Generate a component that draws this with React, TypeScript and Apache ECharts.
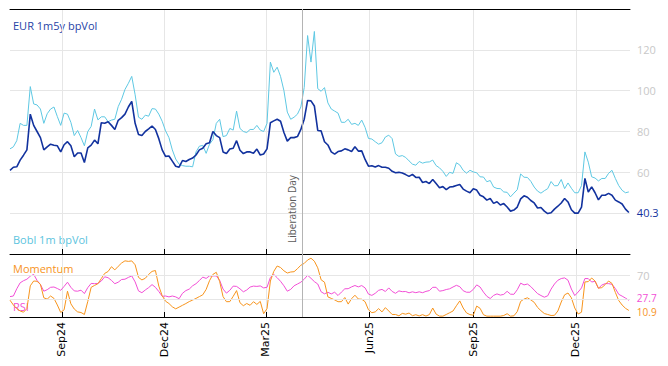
import React, { useEffect, useRef } from "react";
import * as echarts from "echarts";

// Series sampled every 3 calendar days starting 17 Jul 2024
const startDay = [2024, 6, 17];
const stepDays = 3;
const axisStart = [2024, 6, 17];
const axisEnd = [2026, 0, 18];
const liberationDay = [2025, 3, 2];

const eurVol = [
  61, 62.5, 62.7, 66, 68.4, 71, 88.5, 83, 80, 77,
  71, 72.5, 73.8, 73.3, 73, 70, 73.5, 75, 73, 67.6,
  69.5, 69.5, 64.8, 72, 73.3, 75.8, 74, 84.3, 84, 84.8,
  83, 81, 85.5, 86.8, 88.5, 92, 94.8, 84, 78.5, 78,
  80, 81.3, 82.7, 81, 76.5, 71, 67.8, 68, 65.5, 63,
  62.5, 65.8, 65.3, 66.3, 67, 68.5, 71, 71.8, 74, 74.5,
  80, 78, 77, 70, 69.2, 71.4, 71.8, 75.5, 70.8, 69.2,
  70, 70, 69.4, 71.4, 68.5, 69, 71.5, 84.3, 85.2, 86,
  85, 79.5, 75.3, 77, 77, 77.5, 81, 86, 95.2, 95,
  92.5, 80.5, 80.3, 75, 73.4, 70, 68.9, 70.2, 70.5, 71.5,
  71, 70.2, 72.5, 70.4, 70.5, 66.3, 63, 63.2, 62.6, 63.3,
  62.5, 62.5, 62, 60.5, 59.8, 60, 59.7, 58.9, 58, 59,
  57.5, 57.6, 55, 55.5, 54.5, 56.5, 54.5, 52.5, 53, 51.5,
  52.8, 53, 53.5, 54, 51.8, 50.8, 50, 52, 51.3, 48.8,
  48, 46.4, 47.2, 44.8, 45.6, 44, 44.7, 43, 41, 41.5,
  43, 47, 48.5, 47.8, 46.2, 45, 42.5, 42.8, 41, 39.8,
  40.2, 42, 43.4, 45, 47.2, 45.5, 41.7, 40, 40, 43,
  57, 50.4, 52.9, 50, 46.5, 48.8, 48.8, 49.7, 48.8, 46.4,
  45.5, 44.5, 42, 40.3,
];

const boblVol = [
  71.5, 72.5, 75.5, 84, 83, 83, 102, 93.5, 93, 91,
  84, 88.7, 91, 92, 87.3, 83, 89, 88.5, 84.5, 78,
  80.5, 77, 73, 80, 82.5, 91, 85.7, 87.2, 87.2, 84.8,
  85.6, 86, 92.2, 95.8, 100.6, 103.6, 107, 98, 87, 86,
  88, 87.5, 91.2, 91, 88.5, 85, 80.3, 77, 71, 66.5,
  64, 63.3, 63, 63, 62.7, 70, 72.8, 73.2, 69.3, 73.8,
  76, 84, 86, 77.5, 78, 81.5, 80.7, 90, 81.5, 80,
  79.5, 81, 81, 83, 80.7, 80, 84, 114, 109, 111.5,
  107, 100, 89.5, 86, 87, 88.5, 92, 101.5, 127, 114,
  129, 101, 99.7, 101.5, 94, 91, 90, 89, 84.5, 84.5,
  86, 83.5, 84, 83, 85.6, 82, 76.6, 76.3, 75, 73.8,
  74.5, 77.3, 78.2, 76.5, 69, 67.8, 68.2, 67.3, 65.6, 64,
  63.5, 65.3, 64.5, 65, 65.1, 66, 63.3, 62.2, 60.5, 58,
  60, 59.5, 64.7, 63.6, 61, 59.6, 61, 60.2, 59.8, 57.8,
  57.7, 55.4, 56, 52.8, 52.1, 52, 50.4, 50.2, 48, 49.8,
  51.5, 59.2, 57.6, 57.5, 55.6, 52.8, 50.8, 49.8, 51, 52,
  55.5, 53.4, 53.5, 56.5, 52, 54.8, 52.2, 50, 50, 53.5,
  70, 65, 57.8, 57.2, 55.8, 57, 57, 59.5, 61, 57,
  53.5, 51.2, 50, 50.4,
];

const momentum = [
  28, 20, 14, 10, 8, 14, 52, 60, 59.5, 54.5,
  32, 29.8, 35, 31, 20, 7.5, 12, 43, 22, 13.3,
  8.5, 7.5, 4.2, 26, 49.5, 52.6, 55.5, 64, 72.7, 75.8,
  83.8, 78.5, 84.5, 90, 93.6, 92.7, 93.5, 87, 66, 61.8,
  64.5, 71, 76, 77.5, 51.5, 35.5, 26.3, 22.5, 17, 13.6,
  16.5, 19.5, 22.4, 25.7, 28.2, 31, 34, 37, 46, 60.5,
  71, 74.5, 59, 34, 25.5, 25.6, 34.5, 44, 23.8, 18.8,
  22.5, 19.5, 25.5, 21, 26, 5.5, 14, 60, 76, 85,
  82.5, 77, 73.3, 75, 75.5, 80.5, 86.3, 89.3, 95, 98,
  93, 82, 62, 58, 33.5, 31, 28.5, 25.5, 25.5, 32.5,
  21.5, 30.5, 36.3, 30, 29.6, 25.5, 12, 7.1, 8.5, 14,
  8.5, 15.6, 10, 4.2, 4.2, 2, 6, 4.7, 6.6, 2.2,
  3.8, 1.8, 3.9, 1.6, 4, 15, 4.8, 1.5, 1.4, 4.2,
  7.1, 10, 18.7, 26.8, 15, 6.8, 4, 3, 18.2, 14.5,
  3.8, 1.4, 1.4, 1.4, 1.4, 1.4, 2.5, 5.5, 1.4, 2,
  9, 26, 29.9, 32, 28.5, 24.5, 16, 10.5, 5.8, 4.2,
  2.5, 2.8, 10, 25, 37, 40, 32, 15, 5, 8,
  58.4, 59, 65, 60, 48, 49, 54, 60, 56, 41,
  27.5, 20, 14.5, 10.9,
];

const rsi = [
  34, 35, 47, 57, 60.5, 63, 68, 71, 61, 54,
  43, 45.5, 49.5, 50, 47.5, 44.5, 51, 58, 49.5, 43.5,
  43, 44.7, 39, 49, 56, 55.5, 56, 60, 67, 65.5,
  61, 55.5, 58, 62.5, 63, 66, 68.5, 58.5, 43.5, 40.5,
  45, 49, 54, 49.5, 42.5, 34.5, 35, 33.5, 35, 33.5,
  30.5, 39.5, 44, 46.5, 52, 55.5, 60.8, 66.5, 64.3, 68.5,
  68.5, 68.5, 61, 46.5, 39.8, 44.5, 51.5, 51, 47, 42,
  45, 49.9, 51.5, 51, 51.8, 48.5, 49.5, 66, 71, 65.5,
  59.5, 52, 43, 46, 52, 55, 58, 63, 69.5, 64.5,
  59, 55, 42, 38.6, 41.2, 38.5, 41.3, 35.8, 41.5, 47,
  47.2, 50.2, 52.5, 50.2, 52.4, 48.5, 38.2, 36, 39.5, 44.5,
  46, 42.5, 48.5, 42.6, 39.5, 43.5, 42.2, 42.5, 40.3, 42,
  40.5, 42, 40.5, 42.7, 44, 49.5, 49.5, 43, 44, 45.8,
  47, 50, 52.8, 50.5, 43.8, 41.3, 41.3, 46, 53.5, 50,
  41.5, 34.5, 30.8, 36, 38.5, 36.5, 37.7, 42.8, 38, 37.8,
  45.5, 56.4, 53.5, 55, 50.7, 44.8, 39, 35.8, 33, 35.3,
  46.5, 55, 61.2, 64.1, 65.2, 61.3, 46.6, 35.7, 41.6, 48.5,
  64.1, 64, 58.3, 59.5, 47.8, 53.2, 55.6, 55.6, 54.5, 47.5,
  37.8, 34.8, 31.5, 27.7,
];

const tickMonths = [
  [2024, 8, 1],
  [2024, 11, 1],
  [2025, 2, 1],
  [2025, 5, 1],
  [2025, 8, 1],
  [2025, 11, 1],
];
const monthNames = ["Jan", "Feb", "Mar", "Apr", "May", "Jun", "Jul", "Aug", "Sep", "Oct", "Nov", "Dec"];
const volTicks = [60, 80, 100, 120];
const oscTicks = [70];
const oscGrid = [30, 70];

const C_EUR = "#12329e";
const C_BOBL = "#5ec8e3";
const C_MOM = "#f7941d";
const C_RSI = "#f24fd6";
const FONT = "Open Sans";

const toTime = (a: number[]) => new Date(a[0], a[1], a[2]).getTime();

export default function App() {
  const ref = useRef<HTMLDivElement>(null);
  useEffect(() => {
    if (!ref.current) return;
    const chart = echarts.init(ref.current, undefined, { renderer: "svg" });
    const t0 = toTime(startDay);
    const dates = eurVol.map((_, i) => t0 + i * stepDays * 86400000);
    const xmin = toTime(axisStart);
    const xmax = toTime(axisEnd);
    const ticks = tickMonths.map(toTime);
    const lib = toTime(liberationDay);
    const fmtDate = (v: number) => {
      const d = new Date(v);
      return monthNames[d.getMonth()] + String(d.getFullYear()).slice(2);
    };
    const pair = (arr: number[]) => arr.map((v, i) => [dates[i], v]);
    const endLabel = (color: string, dy: number, size: number) => ({
      show: true,
      formatter: (p: any) => Number(p.value[1]).toFixed(1),
      color,
      fontSize: size,
      lineHeight: size,
      fontFamily: FONT,
      distance: 8,
      offset: [0, dy],
    });
    const baseX = {
      type: "value",
      min: xmin,
      max: xmax,
      axisLine: { show: true, lineStyle: { color: "#000", width: 1 } },
      axisTick: { show: true, inside: true, length: 5, customValues: ticks, lineStyle: { color: "#000" } },
      splitLine: { show: true, lineStyle: { color: "#e6e6e6", width: 1 } },
    };
    chart.setOption({
      animation: false,
      backgroundColor: "#fff",
      grid: [
        { left: 10, right: 38, top: 9, height: 245 },
        { left: 10, right: 38, top: 254, height: 63 },
      ],
      xAxis: [
        { ...baseX, gridIndex: 0, axisLabel: { show: false, customValues: ticks } },
        {
          ...baseX,
          gridIndex: 1,
          axisLabel: {
            show: true,
            customValues: ticks,
            rotate: 90,
            formatter: fmtDate,
            fontSize: 11,
            fontFamily: "DejaVu Sans",
            color: "#000",
            margin: 5,
          },
        },
        {
          type: "value",
          gridIndex: 0,
          position: "top",
          min: xmin,
          max: xmax,
          axisLine: { show: true, lineStyle: { color: "#000", width: 1 } },
          axisTick: { show: false },
          axisLabel: { show: false },
          splitLine: { show: false },
        },
      ],
      yAxis: [
        {
          type: "value",
          gridIndex: 0,
          position: "right",
          min: 20,
          max: 140,
          interval: 20,
          axisLine: { show: false },
          axisTick: { show: false },
          splitLine: { show: true, lineStyle: { color: "#e6e6e6" } },
          axisLabel: {
            color: "#c8c8c8",
            fontSize: 11,
            fontFamily: FONT,
            margin: 7,
            formatter: (v: number) => (volTicks.includes(v) ? String(v) : ""),
          },
        },
        {
          type: "value",
          gridIndex: 1,
          position: "right",
          min: 0,
          max: 105,
          interval: 10,
          axisLine: { show: false },
          axisTick: { show: false },
          splitLine: { show: false },
          axisLabel: {
            color: "#c8c8c8",
            fontSize: 11,
            fontFamily: FONT,
            margin: 7,
            formatter: (v: number) => (oscTicks.includes(v) ? String(v) : ""),
          },
        },
      ],
      series: [
        {
          type: "line",
          xAxisIndex: 0,
          yAxisIndex: 0,
          data: [],
          z: 1,
          silent: true,
          markLine: {
            silent: true,
            symbol: "none",
            lineStyle: { color: "#b4b4b4", width: 1, type: "solid" },
            label: {
              show: true,
              formatter: "Liberation Day",
              position: "insideStartTop",
              color: "#5a5a5a",
              fontSize: 10,
              fontFamily: FONT,
              distance: [11, 5],
            },
            data: [{ xAxis: lib }],
          },
        },
        {
          type: "line",
          xAxisIndex: 1,
          yAxisIndex: 1,
          data: [],
          z: 1,
          silent: true,
          markLine: {
            silent: true,
            symbol: "none",
            label: { show: false },
            data: [
              ...oscGrid.map((v) => ({ yAxis: v, lineStyle: { color: "#e6e6e6", width: 1, type: "solid" } })),
              { xAxis: lib, lineStyle: { color: "#b4b4b4", width: 1, type: "solid" } },
            ],
          },
        },
        {
          name: "Bobl 1m bpVol",
          type: "line",
          xAxisIndex: 0,
          yAxisIndex: 0,
          data: pair(boblVol),
          showSymbol: false,
          lineStyle: { color: C_BOBL, width: 1 },
          itemStyle: { color: C_BOBL },
        },
        {
          name: "EUR 1m5y bpVol",
          type: "line",
          xAxisIndex: 0,
          yAxisIndex: 0,
          data: pair(eurVol),
          showSymbol: false,
          lineStyle: { color: C_EUR, width: 1.6 },
          itemStyle: { color: C_EUR },
          endLabel: endLabel(C_EUR, 0, 11),
        },
        {
          name: "RSI",
          type: "line",
          xAxisIndex: 1,
          yAxisIndex: 1,
          data: pair(rsi),
          showSymbol: false,
          lineStyle: { color: C_RSI, width: 1 },
          itemStyle: { color: C_RSI },
          endLabel: endLabel(C_RSI, -2, 10),
        },
        {
          name: "Momentum",
          type: "line",
          xAxisIndex: 1,
          yAxisIndex: 1,
          data: pair(momentum),
          showSymbol: false,
          lineStyle: { color: C_MOM, width: 1 },
          itemStyle: { color: C_MOM },
          endLabel: endLabel(C_MOM, 2, 10),
        },
      ],
      graphic: [
        { type: "text", x: 13, y: 25, style: { text: "EUR 1m5y bpVol", fill: "#2743a6", fontSize: 11, fontFamily: FONT, verticalAlign: "middle" } },
        { type: "text", x: 13, y: 239, style: { text: "Bobl 1m bpVol", fill: "#5cc4de", fontSize: 11, fontFamily: FONT, verticalAlign: "middle" } },
        { type: "text", x: 13, y: 268, style: { text: "Momentum", fill: C_MOM, fontSize: 11, fontFamily: FONT, verticalAlign: "middle" } },
        { type: "text", x: 13, y: 306, style: { text: "RSI", fill: C_RSI, fontSize: 11, fontFamily: FONT, verticalAlign: "middle" } },
      ],
    });
    return () => chart.dispose();
  }, []);
  return <div ref={ref} style={{ position: "fixed", left: 0, top: 0, width: 668, height: 366 }} />;
}
